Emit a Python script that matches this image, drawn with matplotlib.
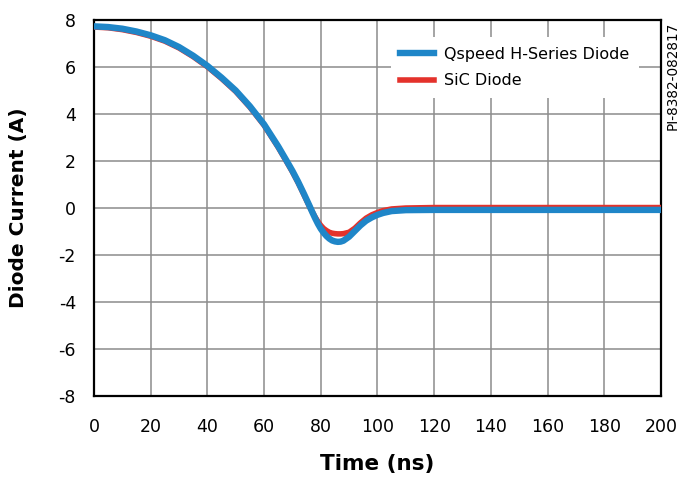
import numpy as np
import matplotlib.pyplot as plt

# time axis (ns) and diode currents (A)
time_ns = [0, 5, 10, 15, 20, 25, 30, 35, 40, 45, 50, 55, 60, 65, 68, 70, 72, 74,
           76, 77, 78, 79, 80, 81, 82, 83, 84, 85, 86, 87, 88, 90, 92, 94, 96,
           98, 100, 102, 105, 110, 120, 140, 160, 180, 200]
qspeed = [7.73, 7.70, 7.63, 7.51, 7.35, 7.14, 6.85, 6.48, 6.05, 5.55, 5.00, 4.33,
          3.56, 2.62, 2.00, 1.58, 1.12, 0.62, 0.10, -0.17, -0.43, -0.67, -0.88,
          -1.05, -1.19, -1.30, -1.38, -1.42, -1.44, -1.43, -1.39, -1.22, -0.98,
          -0.74, -0.54, -0.40, -0.29, -0.21, -0.13, -0.09, -0.08, -0.08, -0.08,
          -0.08, -0.08]
sic = [7.70, 7.67, 7.59, 7.47, 7.31, 7.10, 6.81, 6.44, 6.01, 5.51, 4.96, 4.29,
       3.52, 2.58, 1.96, 1.54, 1.08, 0.58, 0.07, -0.16, -0.38, -0.58, -0.74,
       -0.87, -0.96, -1.03, -1.07, -1.09, -1.10, -1.10, -1.09, -1.03, -0.86,
       -0.63, -0.43, -0.29, -0.19, -0.11, -0.04, 0.00, 0.02, 0.02, 0.02, 0.02,
       0.02]

xticks = np.arange(0, 201, 20)
yticks = np.arange(-8, 9, 2)

plt.rcParams['font.family'] = ['DejaVu Sans']
plt.rcParams['axes.unicode_minus'] = False

fig = plt.figure(figsize=(6.79, 4.83), dpi=100)
ax = fig.add_axes([0.1384, 0.180, 0.835, 0.7786])

ax.plot(time_ns, sic, color='#e4322b', lw=4.0, label='SiC Diode', zorder=3)
ax.plot(time_ns, qspeed, color='#1f86c8', lw=4.6, label='Qspeed H-Series Diode',
        zorder=4)

ax.set_xlim(0, 200)
ax.set_ylim(-8, 8)
ax.set_xticks(xticks)
ax.set_yticks(yticks)
ax.tick_params(length=0, labelsize=12.5)
ax.tick_params(axis='x', pad=16)
ax.tick_params(axis='y', pad=13)
ax.grid(True, color='#8c8c8c', lw=1.1)
ax.set_axisbelow(True)
for s in ax.spines.values():
    s.set_linewidth(1.6)
    s.set_color('black')

ax.set_xlabel('Time (ns)', fontsize=15.5, fontweight='bold', labelpad=13)
ax.set_ylabel('Diode Current (A)', fontsize=14.5, fontweight='bold', labelpad=22)

handles, labels = ax.get_legend_handles_labels()
leg = ax.legend(handles[::-1], labels[::-1], loc='upper right',
                bbox_to_anchor=(0.975, 0.975), fontsize=11.5, frameon=True,
                handlelength=2.1, handletextpad=0.63, labelspacing=0.72,
                borderpad=0.6, fancybox=False)
leg.get_frame().set_edgecolor('none')
leg.get_frame().set_facecolor('white')
leg.get_frame().set_alpha(1)

fig.text(0.991, 0.955, 'PI-8382-082817', rotation=90, fontsize=9.8,
         ha='center', va='top')

fig.savefig('out.png', dpi=100)
